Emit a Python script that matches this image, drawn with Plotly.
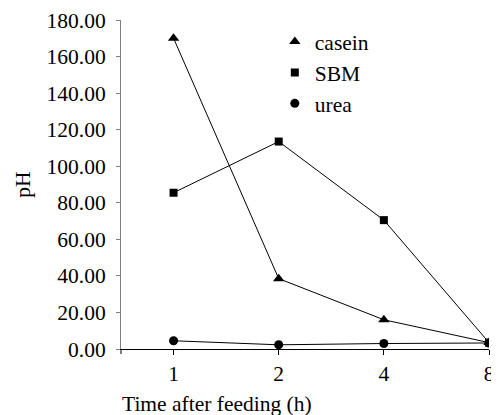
import plotly.graph_objects as go

categories = ["1", "2", "4", "8"]
casein = [170.0, 38.5, 16.0, 3.5]
sbm = [85.5, 113.5, 70.5, 3.5]
urea = [4.5, 2.3, 3.0, 3.3]
y_ticks = [0, 20, 40, 60, 80, 100, 120, 140, 160, 180]

FONT = "Liberation Serif, Times New Roman, serif"
FS = 21.5

def f(size=FS):
    return dict(family=FONT, size=size, color="black")

fig = go.Figure()
series = [("casein", casein, "triangle-up", 10),
          ("SBM", sbm, "square", 8),
          ("urea", urea, "circle", 9)]
for name, vals, sym, sz in series:
    fig.add_trace(go.Scatter(
        x=categories, y=vals, name=name, mode="lines",
        line=dict(color="black", width=1), showlegend=False,
        hoverinfo="skip",
    ))
for name, vals, sym, sz in series:
    fig.add_trace(go.Scatter(
        x=categories, y=vals, name=name, mode="markers",
        marker=dict(symbol=sym, size=sz, color="black"),
    ))

# page has an 8px body margin: figure starts at (8, 8)
fig.update_layout(
    width=491, height=407,
    margin=dict(l=113, r=10, t=12, b=66, autoexpand=False),
    paper_bgcolor="white", plot_bgcolor="white",
    font=f(),
    showlegend=True,
    legend=dict(x=0.418, y=0.997, xanchor="left", yanchor="top",
                bgcolor="rgba(0,0,0,0)", font=f(),
                tracegroupgap=0, itemwidth=30),
    xaxis=dict(type="category", range=[-0.5, 3.0], showgrid=False,
               showline=True, linecolor="black", linewidth=1,
               ticks="outside", ticklen=5, tickcolor="black",
               tickfont=f(), zeroline=False, automargin=False),
    yaxis=dict(range=[0, 180], tickvals=y_ticks, tickformat=".2f",
               showgrid=False, showline=True, linecolor="#808080",
               linewidth=1, ticks="outside", ticklen=4, tickcolor="#808080",
               tickfont=f(), zeroline=False, automargin=False,
               ticklabelstandoff=6,
               title=dict(text="pH", font=f(), standoff=10)),
)

fig.add_shape(type="line", xref="paper", yref="paper", x0=0, x1=0,
              y0=0, y1=-5/329, line=dict(color="black", width=1))

fig.add_annotation(text="Time after feeding (h)", xref="paper", yref="paper",
                   x=(217-121)/368, y=-55/329, xanchor="center", yanchor="middle",
                   showarrow=False, font=f())

fig.write_html("out.html")
